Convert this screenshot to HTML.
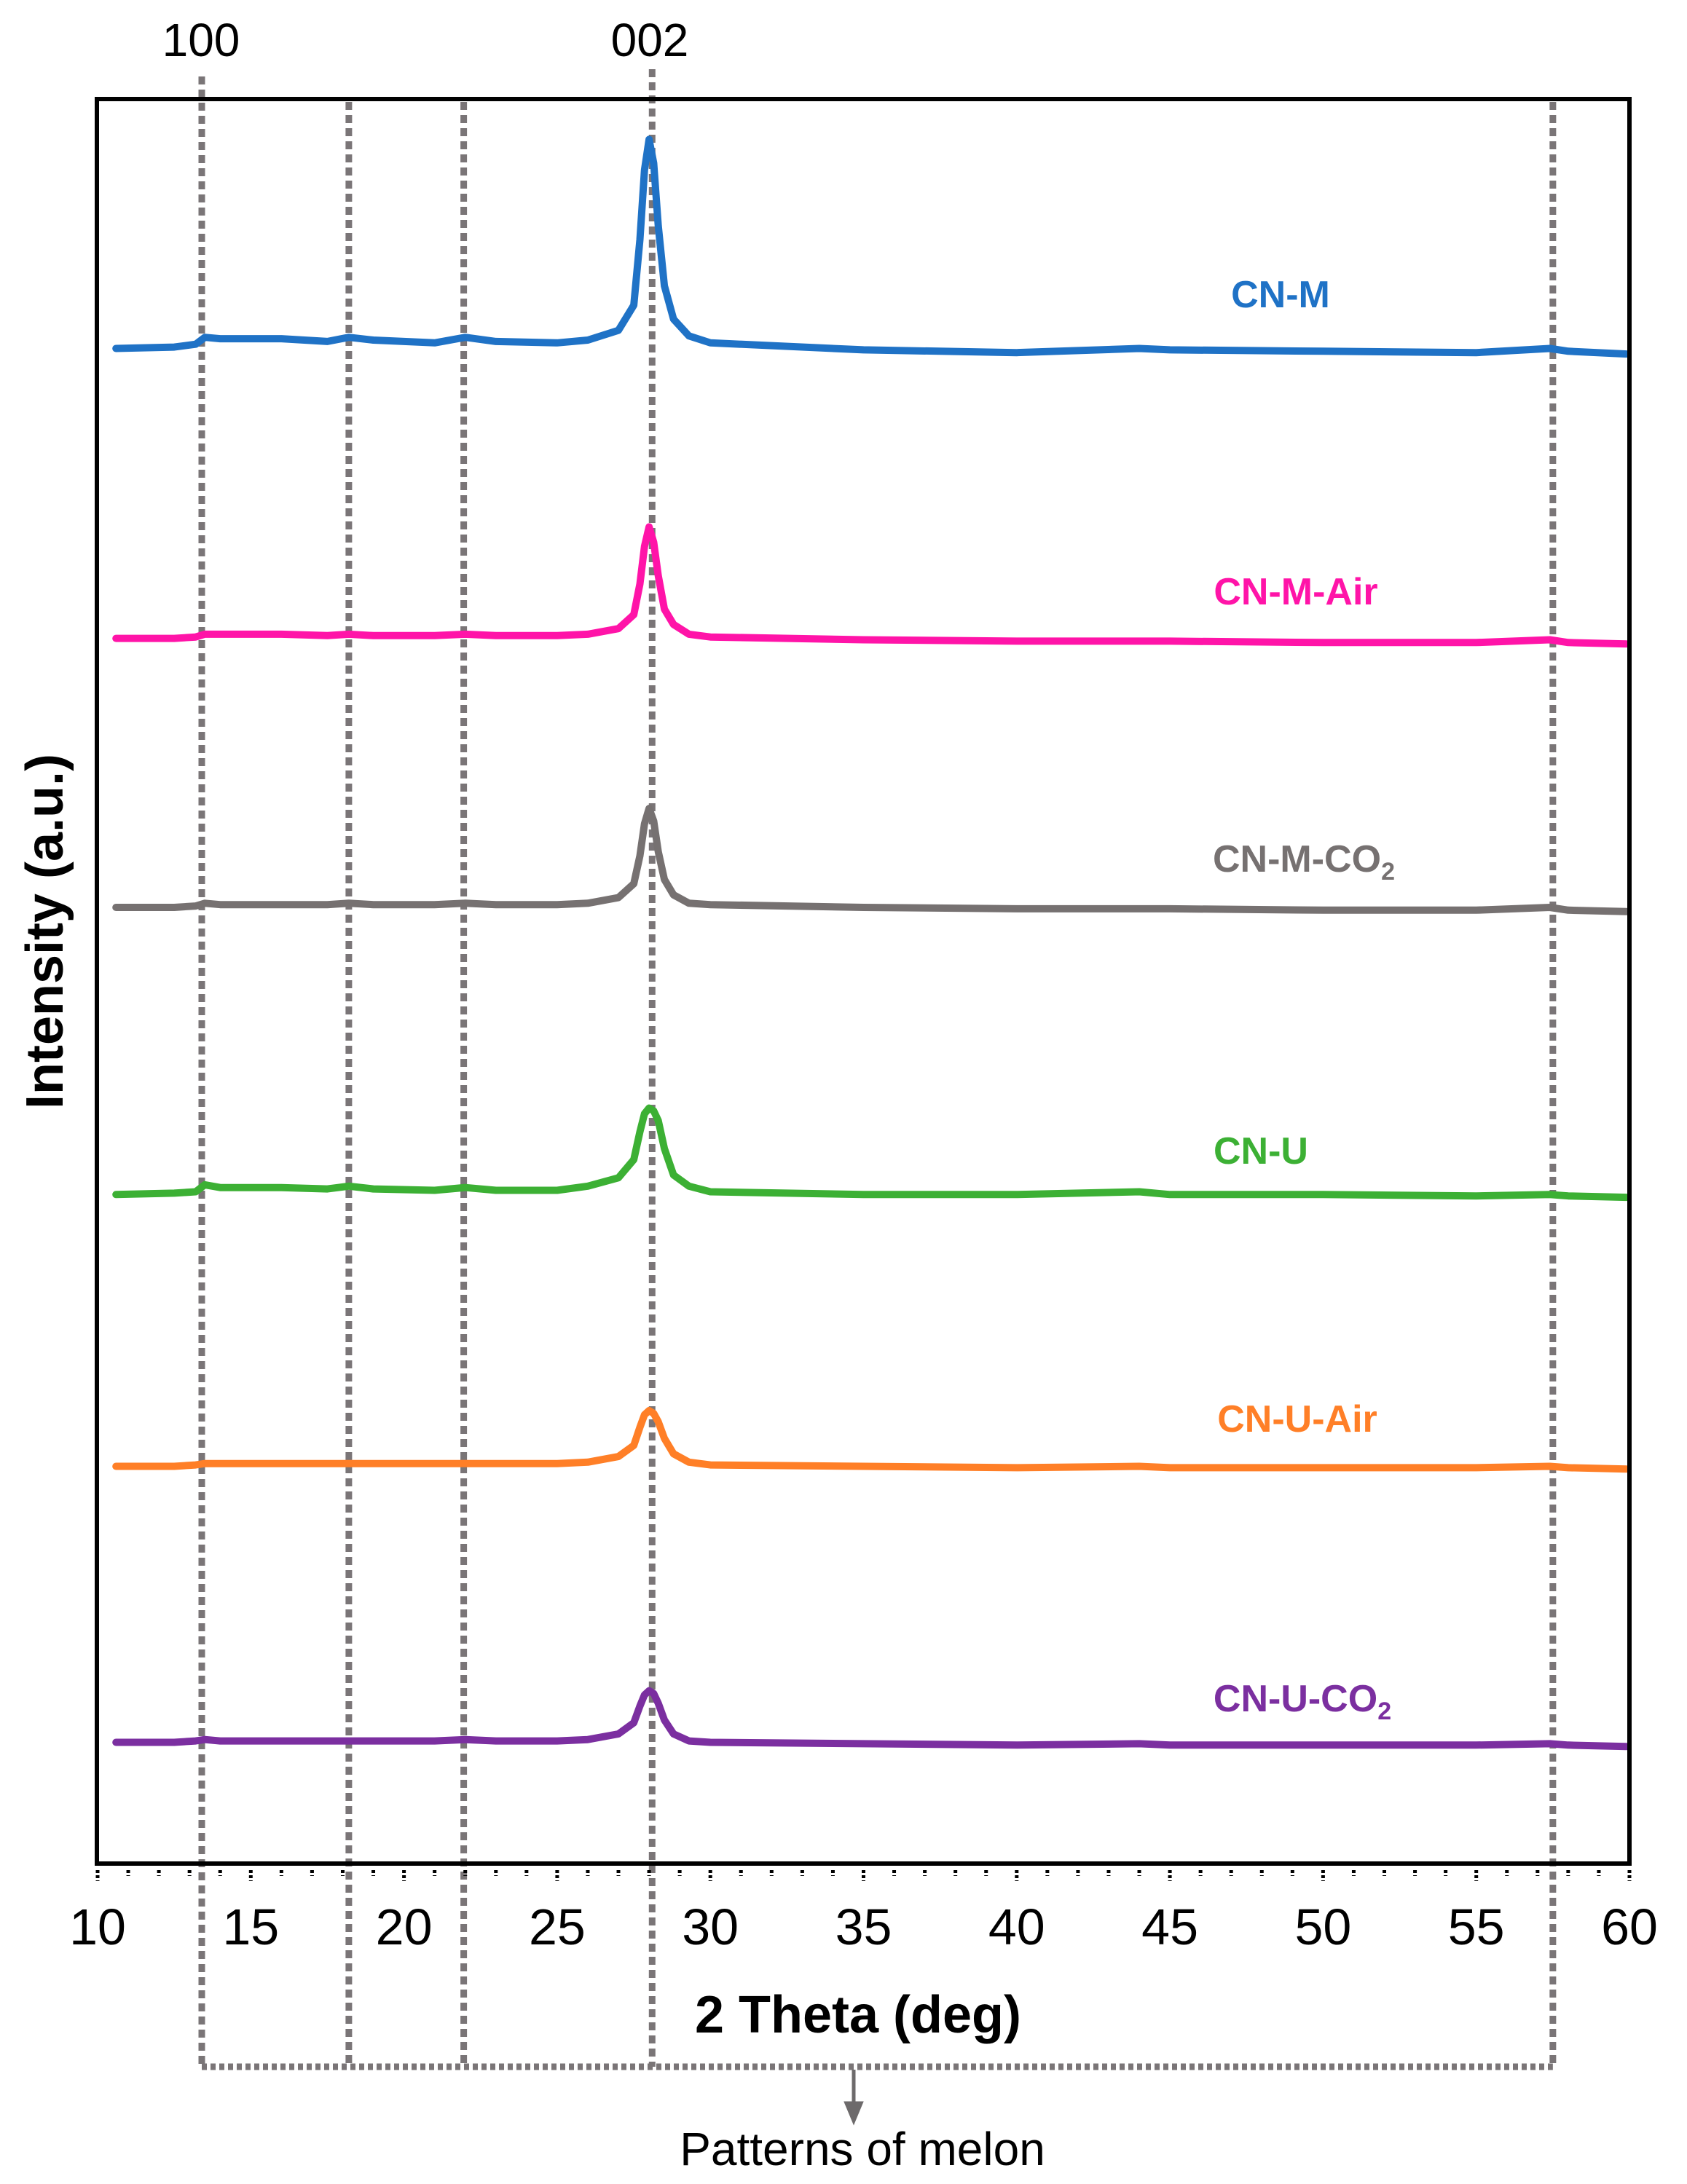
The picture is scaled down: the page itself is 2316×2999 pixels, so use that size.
<!DOCTYPE html>
<html><head><meta charset="utf-8"><style>
html,body{margin:0;padding:0;background:#fff}
svg{display:block}
text{font-family:"Liberation Sans",Arial,sans-serif}
</style></head><body>
<svg id="chart" width="2316" height="2999" viewBox="0 0 2316 2999" xmlns="http://www.w3.org/2000/svg">
<g id="refs"></g>
<g id="series"></g>
<rect x="133" y="136" width="2104" height="2423" fill="none" stroke="#000" stroke-width="6"/>
<g id="ticks"></g>
<text x="276" y="77" font-size="64" text-anchor="middle">100</text>
<text x="892" y="77" font-size="64" text-anchor="middle">002</text>
<text x="1178" y="2791" font-size="72" font-weight="bold" text-anchor="middle">2 Theta (deg)</text>
<text transform="translate(86,1279) rotate(-90)" font-size="72" font-weight="bold" text-anchor="middle">Intensity (a.u.)</text>
<text x="1184" y="2973" font-size="64" text-anchor="middle">Patterns of melon</text>
<g id="labels"></g>
</svg>
<script>
const NS="http://www.w3.org/2000/svg";
const xVals=[10.6,12.5,13.2,13.5,14,16,17.5,18.2,19,21,22,23,25,26,27,27.5,27.7,27.85,28.0,28.15,28.3,28.5,28.8,29.3,30,35,40,44,45,50,55,57.4,58,59.9];
const cnM=[1087,1088,1090,1095,1094,1094,1092,1095,1093,1091,1095,1092,1091,1093,1100,1118,1165,1215,1237,1220,1175,1132,1108,1096,1091,1086,1084,1087,1086,1085,1084,1087,1085,1083];
const cnMAir=[879,879,880,882,882,882,881,882,881,881,882,881,881,882,886,896,918,945,959,948,924,900,889,882,880,878,877,877,877,876,876,878,876,875];
const cnMCO2=[686,686,687,689,688,688,688,689,688,688,689,688,688,689,693,703,723,746,757,748,726,706,695,689,688,686,685,685,685,684,684,686,684,683];
const cnU=[480,481,482,487,485,485,484,486,484,483,485,483,483,486,492,505,525,538,542,540,533,513,494,486,482,480,480,482,480,480,479,480,479,478];
const cnUAir=[285,285,286,287,287,287,287,287,287,287,287,287,287,288,292,300,313,322,325,323,317,305,294,288,286,285,284,285,284,284,284,285,284,283];
const cnUCO2=[87,87,88,89,88,88,88,88,88,88,89,88,88,89,93,101,113,121,124,122,115,103,93,88,87,86,85,86,85,85,85,86,85,84];
const seriesNames=["CN-M","CN-M-Air","CN-M-CO2","CN-U","CN-U-Air","CN-U-CO2"];
const refLines=[13.4,18.2,21.95,28.1,57.5];
const xTicks=[10,15,20,25,30,35,40,45,50,55,60];

const xS=d=>134+(d-10)*42.06;
const yS=v=>2559-v*1.914;

const series=[
 {name:"CN-M",data:cnM,color:"#1f72c6",lx:1758,ly:422,sub:false},
 {name:"CN-M-Air",data:cnMAir,color:"#ff14a8",lx:1779,ly:830,sub:false},
 {name:"CN-M-CO",data:cnMCO2,color:"#767171",lx:1790,ly:1197,sub:true},
 {name:"CN-U",data:cnU,color:"#3cb034",lx:1731,ly:1598,sub:false},
 {name:"CN-U-Air",data:cnUAir,color:"#ff7f27",lx:1781,ly:1966,sub:false},
 {name:"CN-U-CO",data:cnUCO2,color:"#7b2fa0",lx:1788,ly:2350,sub:true}
];
const sg=document.getElementById('series');
const lg=document.getElementById('labels');
series.forEach((s,i)=>{
  const p=document.createElementNS(NS,'polyline');
  
  
  p.setAttribute('points',s.data.map((v,j)=>xS(xVals[j]).toFixed(1)+','+yS(v).toFixed(1)).join(' '));
  p.setAttribute('fill','none');p.setAttribute('stroke',s.color);
  p.setAttribute('stroke-width','10');p.setAttribute('stroke-linejoin','round');p.setAttribute('stroke-linecap','round');
  sg.appendChild(p);
  const t=document.createElementNS(NS,'text');
  
  
  t.setAttribute('x',s.lx);t.setAttribute('y',s.ly);
  t.setAttribute('font-size','52');t.setAttribute('font-weight','bold');
  t.setAttribute('fill',s.color);t.setAttribute('text-anchor','middle');
  t.textContent=s.name;
  if(s.sub){const ts=document.createElementNS(NS,'tspan');ts.setAttribute('font-size','34');ts.setAttribute('dy','11');ts.textContent='2';t.appendChild(ts);}
  lg.appendChild(t);
});
const rg=document.getElementById('refs');
refLines.forEach((d,i)=>{
  const l=document.createElementNS(NS,'line');
  
  
  const top=(i===0)?105:(i===3?95:140);
  l.setAttribute('x1',xS(d));l.setAttribute('x2',xS(d));l.setAttribute('y1',top);l.setAttribute('y2',2838);
  l.setAttribute('stroke','#7a7577');l.setAttribute('stroke-width','9');l.setAttribute('stroke-dasharray','11 7');
  rg.appendChild(l);
});
const hb=document.createElementNS(NS,'line');


hb.setAttribute('x1',xS(refLines[0]));hb.setAttribute('x2',xS(refLines[4]));hb.setAttribute('y1',2838);hb.setAttribute('y2',2838);
hb.setAttribute('stroke','#7a7577');hb.setAttribute('stroke-width','9');hb.setAttribute('stroke-dasharray','7 5');
rg.appendChild(hb);
const ar=document.createElementNS(NS,'path');


ar.setAttribute('d','M1172 2842 L1172 2895 M1162 2888 L1172 2912 L1182 2888 Z');
ar.setAttribute('stroke','#6d6a6b');ar.setAttribute('stroke-width','5');ar.setAttribute('fill','#6d6a6b');
rg.appendChild(ar);
const tg=document.getElementById('ticks');
for(let d=10;d<=60;d++){
  const l=document.createElementNS(NS,'line');
  
  
  l.setAttribute('x1',xS(d));l.setAttribute('x2',xS(d));l.setAttribute('y1',2568);l.setAttribute('y2',d%5===0?2583:2576);
  l.setAttribute('stroke','#000');l.setAttribute('stroke-width','5');l.setAttribute('stroke-dasharray','4 3');
  tg.appendChild(l);
}
xTicks.forEach(d=>{
  const t=document.createElementNS(NS,'text');
  
  
  t.setAttribute('x',xS(d));t.setAttribute('y',2670);t.setAttribute('font-size','70');t.setAttribute('text-anchor','middle');
  t.textContent=d;
  tg.appendChild(t);
});
</script>
</body></html>
